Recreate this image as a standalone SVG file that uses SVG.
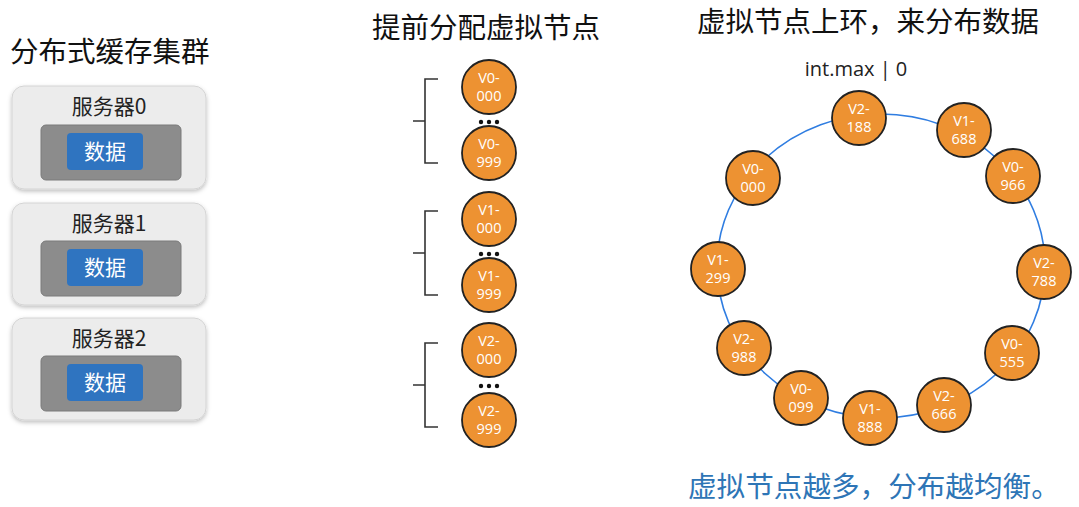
<svg xmlns="http://www.w3.org/2000/svg" width="1079" height="507" viewBox="0 0 1079 507">
<defs>
<filter id="sh" x="-10%" y="-10%" width="120%" height="130%"><feDropShadow dx="0" dy="2" stdDeviation="2" flood-color="#000" flood-opacity="0.25"/></filter>
</defs>
<style>
text{font-family:"Noto Sans CJK SC","Noto Sans","Liberation Sans",sans-serif;}
.title{font-size:28.5px;fill:#111;}
.srv{fill:#ececec;stroke:#d4d4d4;stroke-width:1;filter:url(#sh);}
.inner{fill:#8c8c8c;stroke:#7a7a7a;stroke-width:1;}
.data{fill:#2f74c0;}
.srvt{font-size:21px;fill:#222;text-anchor:middle;}
.datat{font-size:21px;fill:#fff;text-anchor:middle;}
.vn{fill:#ed9232;stroke:#222;stroke-width:1.8;}
.vt{font-family:"Open Sans","Noto Sans",sans-serif;font-size:14.5px;fill:#fff;text-anchor:middle;}
.br{fill:none;stroke:#333;stroke-width:1.6;}
.dot{fill:#111;}
</style>
<rect width="1079" height="507" fill="#fff"/>
<text class="title" x="10" y="62">分布式缓存集群</text>
<text class="title" x="486" y="38" text-anchor="middle">提前分配虚拟节点</text>
<text class="title" x="868" y="32" text-anchor="middle">虚拟节点上环，来分布数据</text>
<text x="856" y="76" text-anchor="middle" style="font-family:'Open Sans','Noto Sans',sans-serif;font-size:20px;fill:#222">int.max  | 0</text>
<g id="server0">
<rect class="srv" x="12" y="86" width="194" height="103" rx="12"/>
<text class="srvt" x="109" y="114">服务器0</text>
<rect class="inner" x="41" y="125" width="140" height="55" rx="5"/>
<rect class="data" x="67" y="133" width="76" height="37" rx="4"/>
<text class="datat" x="105" y="159">数据</text>
</g>
<g id="server1">
<rect class="srv" x="12" y="203" width="194" height="102" rx="12"/>
<text class="srvt" x="109" y="231">服务器1</text>
<rect class="inner" x="41" y="241" width="140" height="55" rx="5"/>
<rect class="data" x="67" y="249" width="76" height="37" rx="4"/>
<text class="datat" x="105" y="275">数据</text>
</g>
<g id="server2">
<rect class="srv" x="12" y="318" width="194" height="102" rx="12"/>
<text class="srvt" x="109" y="346">服务器2</text>
<rect class="inner" x="41" y="356" width="140" height="55" rx="5"/>
<rect class="data" x="67" y="364" width="76" height="37" rx="4"/>
<text class="datat" x="105" y="390">数据</text>
</g>
<g id="brackets">
<path class="br" d="M438,79 H425 V163 H438 M425,121 H413"/>
<path class="br" d="M438,211 H425 V295 H438 M425,253 H413"/>
<path class="br" d="M438,343 H425 V427 H438 M425,385 H413"/>
</g>
<g id="dots">
<circle class="dot" cx="481" cy="122" r="2.2"/><circle class="dot" cx="489" cy="122" r="2.2"/><circle class="dot" cx="497" cy="122" r="2.2"/>
<circle class="dot" cx="481" cy="254" r="2.2"/><circle class="dot" cx="489" cy="254" r="2.2"/><circle class="dot" cx="497" cy="254" r="2.2"/>
<circle class="dot" cx="481" cy="386" r="2.2"/><circle class="dot" cx="489" cy="386" r="2.2"/><circle class="dot" cx="497" cy="386" r="2.2"/>
</g>
<g id="pre-V0-000"><circle class="vn" cx="489" cy="87" r="27"/><text class="vt" x="489" y="83">V0-</text><text class="vt" x="489" y="101">000</text></g>
<g id="pre-V0-999"><circle class="vn" cx="489" cy="153" r="27"/><text class="vt" x="489" y="149">V0-</text><text class="vt" x="489" y="167">999</text></g>
<g id="pre-V1-000"><circle class="vn" cx="489" cy="219" r="27"/><text class="vt" x="489" y="215">V1-</text><text class="vt" x="489" y="233">000</text></g>
<g id="pre-V1-999"><circle class="vn" cx="489" cy="285" r="27"/><text class="vt" x="489" y="281">V1-</text><text class="vt" x="489" y="299">999</text></g>
<g id="pre-V2-000"><circle class="vn" cx="489" cy="350" r="27"/><text class="vt" x="489" y="346">V2-</text><text class="vt" x="489" y="364">000</text></g>
<g id="pre-V2-999"><circle class="vn" cx="489" cy="420" r="27"/><text class="vt" x="489" y="416">V2-</text><text class="vt" x="489" y="434">999</text></g>
<g id="connectors">
<ellipse cx="881" cy="266" rx="164" ry="152" fill="none" stroke="#2f7de1" stroke-width="1.6"/>
</g>
<g id="ring-V2-188"><circle class="vn" cx="859" cy="118" r="27"/><text class="vt" x="859" y="114">V2-</text><text class="vt" x="859" y="132">188</text></g>
<g id="ring-V1-688"><circle class="vn" cx="964" cy="130" r="27"/><text class="vt" x="964" y="126">V1-</text><text class="vt" x="964" y="144">688</text></g>
<g id="ring-V0-966"><circle class="vn" cx="1013" cy="176" r="27"/><text class="vt" x="1013" y="172">V0-</text><text class="vt" x="1013" y="190">966</text></g>
<g id="ring-V2-788"><circle class="vn" cx="1044" cy="272" r="27"/><text class="vt" x="1044" y="268">V2-</text><text class="vt" x="1044" y="286">788</text></g>
<g id="ring-V0-555"><circle class="vn" cx="1012" cy="353" r="27"/><text class="vt" x="1012" y="349">V0-</text><text class="vt" x="1012" y="367">555</text></g>
<g id="ring-V2-666"><circle class="vn" cx="944" cy="405" r="27"/><text class="vt" x="944" y="401">V2-</text><text class="vt" x="944" y="419">666</text></g>
<g id="ring-V1-888"><circle class="vn" cx="870" cy="418" r="27"/><text class="vt" x="870" y="414">V1-</text><text class="vt" x="870" y="432">888</text></g>
<g id="ring-V0-099"><circle class="vn" cx="801" cy="398" r="27"/><text class="vt" x="801" y="394">V0-</text><text class="vt" x="801" y="412">099</text></g>
<g id="ring-V2-988"><circle class="vn" cx="744" cy="348" r="27"/><text class="vt" x="744" y="344">V2-</text><text class="vt" x="744" y="362">988</text></g>
<g id="ring-V1-299"><circle class="vn" cx="718" cy="269" r="27"/><text class="vt" x="718" y="265">V1-</text><text class="vt" x="718" y="283">299</text></g>
<g id="ring-V0-000"><circle class="vn" cx="753" cy="178" r="27"/><text class="vt" x="753" y="174">V0-</text><text class="vt" x="753" y="192">000</text></g>
<text x="688" y="497" style="font-size:28.6px;fill:#2e75b6">虚拟节点越多，分布越均衡。</text>
</svg>
